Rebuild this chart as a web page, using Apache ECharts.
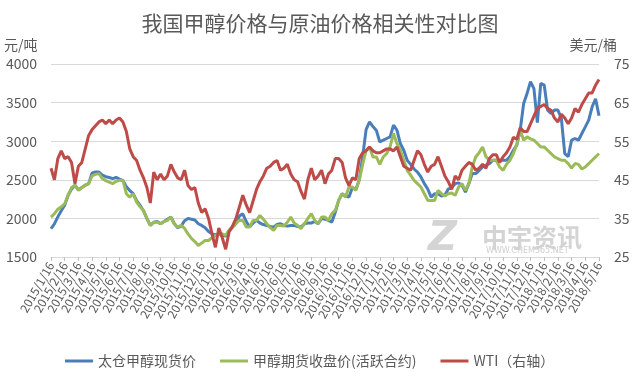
<!DOCTYPE html>
<html>
<head>
<meta charset="utf-8">
<script src="https://cdn.jsdelivr.net/npm/echarts@6/dist/echarts.min.js"></script>
<style>
html,body{margin:0;padding:0;background:#fff;}
#chart{width:640px;height:383px;}
</style>
</head>
<body>
<div id="chart"></div>
<script>
// Monthly tick labels (one tick per month)
var monthLabels = [
"2015/1/16","2015/2/16","2015/3/16","2015/4/16","2015/5/16","2015/6/16","2015/7/16","2015/8/16","2015/9/16","2015/10/16","2015/11/16","2015/12/16",
"2016/1/16","2016/2/16","2016/3/16","2016/4/16","2016/5/16","2016/6/16","2016/7/16","2016/8/16","2016/9/16","2016/10/16","2016/11/16","2016/12/16",
"2017/1/16","2017/2/16","2017/3/16","2017/4/16","2017/5/16","2017/6/16","2017/7/16","2017/8/16","2017/9/16","2017/10/16","2017/11/16","2017/12/16",
"2018/1/16","2018/2/16","2018/3/16","2018/4/16","2018/5/16"
];
// Days sampled within each month step (approx. weekly)
var subDays = ["16","23","1","8"];

// 太仓甲醇现货价 (元/吨), 4 samples per month
var spot = [
1866,1930,2020,2100, 2170,2300,2380,2430, 2370,2400,2430,2450, 2590,2600,2600,2560,
2540,2530,2515,2530, 2510,2490,2410,2360, 2320,2230,2170,2100, 2000,1910,1950,1960,
1930,1960,1990,2017, 1931,1880,1900,1970, 2000,1990,1980,1931, 1909,1880,1830,1800,
1790,1800,1780,1770, 1844,1887,1935,2030, 2060,1960,1890,1940, 1974,1940,1920,1909,
1895,1887,1920,1931, 1909,1900,1909,1909, 1895,1887,1931,1940, 1940,1960,1931,2000,
1990,1974,1952,2080, 2233,2320,2290,2276, 2400,2370,2500,2800, 3150,3250,3190,3140,
2990,3013,3035,3056, 3208,3143,2970,2883, 2753,2700,2640,2600, 2537,2450,2380,2276,
2320,2320,2290,2300, 2380,2400,2450,2460, 2430,2341,2450,2580, 2580,2620,2666,2690,
2710,2753,2753,2753, 2753,2753,2800,2883, 2950,3143,3489,3619, 3770,3680,3240,3749,
3727,3403,3360,3403, 3403,3300,2840,2800, 3013,3035,3013,3100, 3186,3273,3446,3550,
3330
];

// 甲醇期货收盘价(活跃合约) (元/吨)
var futures = [
2017,2061,2120,2150, 2190,2300,2400,2430, 2363,2400,2428,2450, 2550,2570,2580,2515,
2490,2470,2450,2480, 2493,2493,2320,2276, 2320,2210,2150,2104, 1996,1909,1950,1952,
1931,1960,1974,2017, 1931,1887,1909,1870, 1800,1740,1700,1649, 1680,1714,1714,1750,
1780,1801,1801,1780, 1844,1887,1935,1974, 1974,1887,1887,1974, 1974,2039,1990,1931,
1880,1844,1909,1909, 1900,1950,2017,1940, 1909,1866,1931,2000, 2061,1974,1931,2017,
2017,1974,2061,2104, 2233,2320,2276,2406, 2406,2363,2493,2700, 2880,2926,2796,2796,
2700,2796,2840,2926, 3100,2970,2883,2753, 2623,2560,2493,2450, 2406,2320,2233,2233,
2233,2363,2320,2290, 2320,2330,2298,2406, 2450,2363,2450,2666, 2796,2850,2926,2800,
2753,2753,2753,2666, 2623,2700,2753,2840, 2960,3143,3013,3056, 3030,3013,2970,2926,
2926,2883,2840,2796, 2775,2753,2753,2710, 2650,2710,2700,2640, 2666,2710,2753,2796,
2840
];

// WTI (美元/桶, 右轴)
var wti = [
48.0,45.0,50.5,52.5, 50.5,51.0,49.5,44.0, 48.5,49.5,53.0,56.5, 58.0,59.0,60.0,60.5,
59.5,60.5,59.5,60.5, 61.0,60.0,57.5,53.0, 51.0,50.0,47.5,45.5, 43.0,39.0,47.0,45.0,
46.5,45.0,46.0,49.0, 47.0,45.5,45.0,47.5, 43.5,42.5,43.0,39.0, 36.5,37.5,35.0,31.0,
27.5,32.5,30.0,27.0, 31.5,33.0,35.0,38.0, 41.0,38.5,36.5,39.5, 42.5,44.5,46.0,48.0,
48.5,49.5,50.0,47.5, 48.0,49.0,46.5,45.0, 44.5,42.0,40.0,45.0, 48.0,45.0,46.0,47.5,
44.0,46.5,47.5,50.5, 50.5,49.5,45.5,43.5, 45.5,45.0,50.5,52.0, 52.5,53.5,52.5,52.0,
52.0,52.5,53.0,53.0, 52.5,53.5,51.0,48.5, 48.0,47.5,50.0,52.5, 51.5,49.0,47.0,48.5,
49.0,51.0,48.5,46.0, 44.5,42.5,46.0,45.0, 47.5,48.5,49.5,49.0, 47.5,48.0,49.0,48.0,
50.5,51.5,51.5,49.5, 51.0,52.0,53.5,56.0, 55.5,58.5,57.5,57.5, 59.5,61.5,63.5,64.0,
64.5,63.5,63.0,61.0, 60.0,62.0,61.0,59.5, 61.0,63.5,62.5,64.5, 66.0,67.5,67.5,69.5,
71.0
];

var seriesNames = ["太仓甲醇现货价", "甲醇期货收盘价(活跃合约)", "WTI（右轴）"];

// build category list: each month tick followed by 3 weekly samples
var categories = [];
monthLabels.forEach(function (lab, i) {
  if (i === monthLabels.length - 1) { categories.push(lab); return; }
  var p = lab.split("/");
  var y = +p[0], m = +p[1];
  var ny = m === 12 ? y + 1 : y, nm = m === 12 ? 1 : m + 1;
  categories.push(lab);
  categories.push(y + "/" + m + "/" + subDays[1]);
  categories.push(ny + "/" + nm + "/" + subDays[2]);
  categories.push(ny + "/" + nm + "/" + subDays[3]);
});

var FONT = "'Noto Sans CJK SC','Noto Sans',sans-serif";
var GRAY = "#595959";

var chart = echarts.init(document.getElementById("chart"), null, {renderer: "canvas"});
chart.setOption({
  animation: false,
  textStyle: {fontFamily: FONT},
  title: {
    text: "我国甲醇价格与原油价格相关性对比图",
    left: "center", top: 8,
    textStyle: {fontSize: 21, fontWeight: "normal", color: GRAY, fontFamily: FONT}
  },
  legend: {
    left: 60, top: 349,
    itemWidth: 28, itemHeight: 3, itemGap: 24,
    icon: "rect",
    textStyle: {fontSize: 14, color: GRAY, fontFamily: FONT},
    data: seriesNames
  },
  grid: {left: 51, right: 41, top: 64, bottom: 126, containLabel: false},
  xAxis: {
    type: "category",
    data: categories,
    boundaryGap: false,
    axisLine: {lineStyle: {color: "#d9d9d9"}},
    axisTick: {show: true, interval: 3, length: 4, lineStyle: {color: "#bfbfbf"}},
    axisLabel: {interval: 3, rotate: 60, fontSize: 12, color: GRAY, margin: 6, fontFamily: FONT},
    splitLine: {show: false}
  },
  yAxis: [
    {
      type: "value", min: 1500, max: 4000, interval: 500,
      name: "元/吨",
      nameTextStyle: {fontSize: 14, color: GRAY, align: "left", padding: [0, 0, 0, -47], fontFamily: FONT},
      nameGap: 12,
      axisLine: {show: false}, axisTick: {show: false},
      axisLabel: {fontSize: 14, color: GRAY, margin: 14, fontFamily: FONT,
                  formatter: function (v) { return String(v); }},
      splitLine: {lineStyle: {color: "#d9d9d9", width: 1}}
    },
    {
      type: "value", min: 25, max: 75, interval: 10,
      name: "美元/桶",
      nameTextStyle: {fontSize: 14, color: GRAY, align: "right", padding: [0, -18, 0, 0], fontFamily: FONT},
      nameGap: 12,
      axisLine: {show: false}, axisTick: {show: false},
      axisLabel: {fontSize: 14, color: GRAY, margin: 15, fontFamily: FONT},
      splitLine: {show: false}
    }
  ],
  graphic: [
    {type: "text", left: 428, top: 220, style: {text: "Z", fontSize: 40, fontWeight: "bold", fontStyle: "italic", fill: "#d4d4d4", fontFamily: "DejaVu Sans"}, z: 0},
    {type: "text", left: 482, top: 225, style: {text: "中宇资讯", fontSize: 25, fontWeight: "bold", fill: "#d4d4d4", fontFamily: FONT}, z: 0},
    {type: "text", left: 486, top: 247, style: {text: "WWW.CHEM365.NET", fontSize: 8, fill: "#cfcfcf", fontFamily: "DejaVu Sans"}, z: 0}
  ],
  series: [
    {name: seriesNames[0], type: "line", data: spot, yAxisIndex: 0, showSymbol: false, symbol: "none",
     lineStyle: {width: 3, color: "#4a7ebb"}, itemStyle: {color: "#4a7ebb"}, z: 2},
    {name: seriesNames[1], type: "line", data: futures, yAxisIndex: 0, showSymbol: false, symbol: "none",
     lineStyle: {width: 3, color: "#9bbb59"}, itemStyle: {color: "#9bbb59"}, z: 3},
    {name: seriesNames[2], type: "line", data: wti, yAxisIndex: 1, showSymbol: false, symbol: "none",
     lineStyle: {width: 3, color: "#be4b48"}, itemStyle: {color: "#be4b48"}, z: 4}
  ]
});
</script>
</body>
</html>
